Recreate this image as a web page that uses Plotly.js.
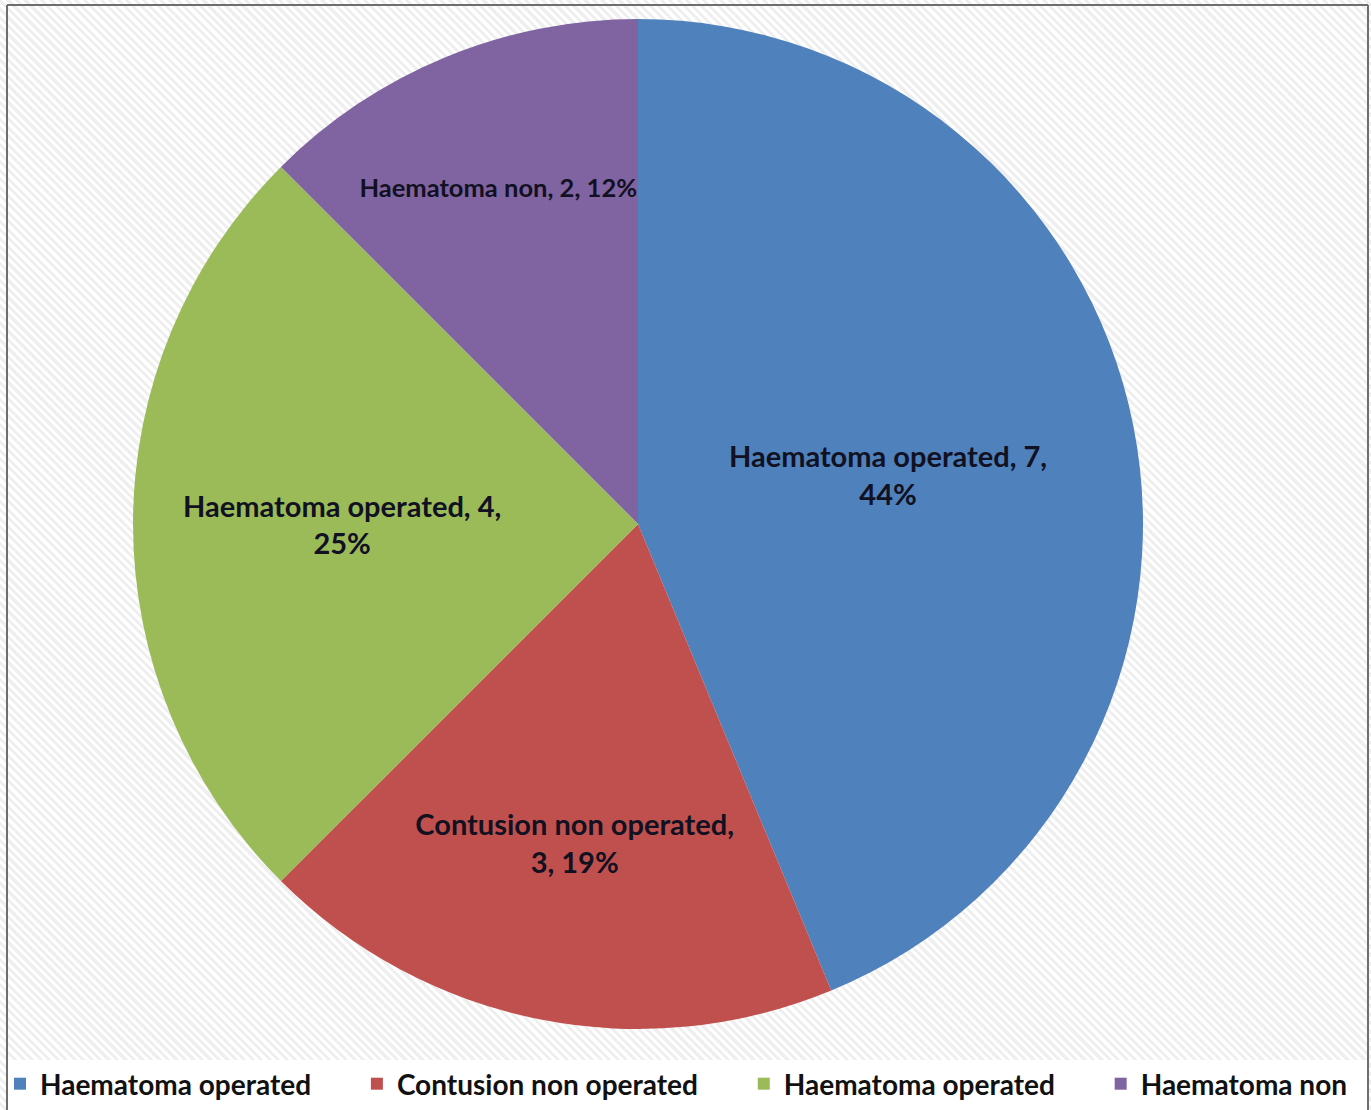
<!DOCTYPE html>
<html>
<head>
<meta charset="utf-8">
<script src="https://cdn.plot.ly/plotly-3.0.1.min.js"></script>
<style>
  html, body { margin: 0; padding: 0; }
  body {
    width: 1371px; height: 1110px; overflow: hidden;
    background: repeating-linear-gradient(45deg, #ffffff 0px, #ffffff 3px, #efefef 3px, #efefef 6px);
  }
  #chart { width: 1371px; height: 1110px; }
</style>
</head>
<body>
<div id="chart"></div>
<script>
// Data
const categories = ["Haematoma operated", "Contusion non operated", "Haematoma operated", "Haematoma non"];
const values = [7, 3, 4, 2];
const percents = [44, 19, 25, 12];
const colors = ["#4F81BD", "#C0504D", "#9BBB59", "#8064A2"];

// Slice label text built from the data arrays
const sliceText = categories.map((c, i) => {
  if (i === 1) return c + ",<br>" + values[i] + ", " + percents[i] + "%";
  if (i === 3) return c + ", " + values[i] + ", " + percents[i] + "%";
  return c + ", " + values[i] + ",<br>" + percents[i] + "%";
});

// Legend entries: pad with non-breaking spaces for Excel-like legend spacing;
// zero-width marker keeps the two identical category names as separate slices.
const legendPad = "\u00a0".repeat(6);
const legendLabels = categories.map((c, i) =>
  c + "\u200b".repeat(i) + (i < categories.length - 1 ? legendPad : ""));

const W = 1371, H = 1110;
const cx = 638, cy = 524, r = 505;

const trace = {
  type: "pie",
  labels: legendLabels,
  values: values,
  text: sliceText,
  textinfo: "text",
  textposition: "inside",
  insidetextorientation: "horizontal",
  sort: false,
  direction: "clockwise",
  rotation: 0,
  marker: { colors: colors, line: { width: 0 } },
  textfont: { family: "Lato, 'Open Sans', sans-serif", size: 29, color: "#111122", weight: "bold" },
  hoverinfo: "label+value+percent",
  domain: { x: [(cx - r) / W, (cx + r) / W], y: [1 - (cy + r) / H, 1 - (cy - r) / H] }
};

const layout = {
  width: W, height: H,
  margin: { l: 0, r: 0, t: 0, b: 0 },
  paper_bgcolor: "rgba(0,0,0,0)",
  plot_bgcolor: "rgba(0,0,0,0)",
  showlegend: true,
  legend: {
    orientation: "h",
    x: 0.0, xanchor: "left",
    y: (H - 1084) / H, yanchor: "middle",
    font: { family: "Lato, 'Open Sans', sans-serif", size: 28, color: "#111111", weight: "bold" },
    bgcolor: "rgba(0,0,0,0)",
    itemwidth: 30,
    traceorder: "normal"
  },
  shapes: [
    { type: "rect", xref: "paper", yref: "paper", x0: 8 / W, x1: 1367 / W, y0: 0, y1: (H - 1060) / H, fillcolor: "#ffffff", line: { width: 0 }, layer: "below" },
    { type: "line", xref: "paper", yref: "paper", x0: 7 / W, x1: 7 / W, y0: 0, y1: 1 - 5 / H, line: { color: "#6e6e6e", width: 2 } },
    { type: "line", xref: "paper", yref: "paper", x0: 7 / W, x1: 1368 / W, y0: 1 - 5 / H, y1: 1 - 5 / H, line: { color: "#6e6e6e", width: 2 } },
    { type: "line", xref: "paper", yref: "paper", x0: 1368 / W, x1: 1368 / W, y0: 0, y1: 1 - 5 / H, line: { color: "#6e6e6e", width: 2 } }
  ]
};

Plotly.newPlot("chart", [trace], layout, { displayModeBar: false, staticPlot: true });
</script>
</body>
</html>
